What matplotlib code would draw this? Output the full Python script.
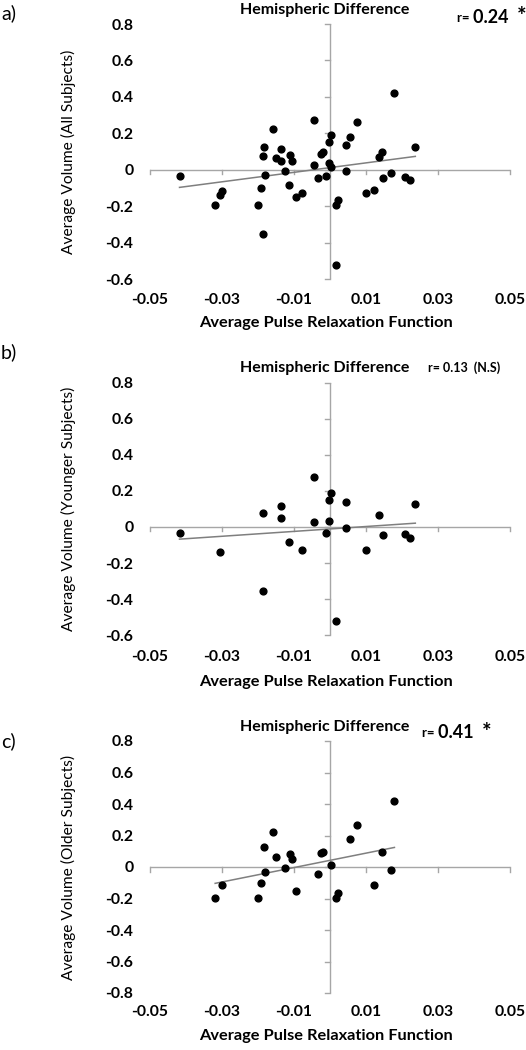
import numpy as np
import matplotlib
matplotlib.use('Agg')
import matplotlib.pyplot as plt

# ---------------- data ----------------
young_x = [-0.0418, -0.0306, -0.0185, -0.0185, -0.0136, -0.0137, -0.0113, -0.0078,
           -0.0044, -0.0044, -0.0012, -0.0002, 0.0003, -0.0002, 0.0018, 0.0044,
           0.0044, 0.0100, 0.0136, 0.0146, 0.0209, 0.0221, 0.0237]
young_y = [-0.033, -0.140, 0.076, -0.354, 0.116, 0.050, -0.083, -0.127,
           0.275, 0.026, -0.035, 0.151, 0.190, 0.035, -0.522, 0.138,
           -0.006, -0.129, 0.068, -0.046, -0.039, -0.059, 0.125]

old_x = [-0.0319, -0.0299, -0.0201, -0.0191, -0.0183, -0.0180, -0.0159, -0.0149,
         -0.0124, -0.0112, -0.0106, -0.0094, -0.0033, -0.0024, -0.0019, 0.0003,
         0.0016, 0.0021, 0.0056, 0.0076, 0.0123, 0.0145, 0.0169, 0.0179]
old_y = [-0.195, -0.115, -0.195, -0.101, 0.126, -0.029, 0.222, 0.063,
         -0.005, 0.080, 0.048, -0.151, -0.046, 0.088, 0.096, 0.015,
         -0.195, -0.165, 0.178, 0.264, -0.113, 0.096, -0.017, 0.421]

all_x = young_x + old_x
all_y = young_y + old_y

x_ticks = [-0.05, -0.03, -0.01, 0.01, 0.03, 0.05]
x_tick_labels = ['-0.05', '-0.03', '-0.01', '0.01', '0.03', '0.05']
yticks_ab = [-0.6, -0.4, -0.2, 0.0, 0.2, 0.4, 0.6, 0.8]
yticks_c = [-0.8, -0.6, -0.4, -0.2, 0.0, 0.2, 0.4, 0.6, 0.8]

panel_letters = ['a)', 'b)', 'c)']
y_labels = ['Average Volume (All Subjects)', 'Average Volume (Younger Subjects)',
            'Average Volume (Older Subjects)']
title = 'Hemispheric Difference'
x_label = 'Average Pulse Relaxation Function'
r_values = ['0.24', '0.13', '0.41']
r_notes = ['*', '(N.S)', '*']

# ---------------- layout ----------------
W, H = 526, 1050
plt.rcParams['font.family'] = ['Lato', 'DejaVu Sans']
fig = plt.figure(figsize=(W / 100, H / 100), dpi=100)


def fx(px):
    return px / W


def fy(py):
    return 1 - py / H


panels = [
    dict(xs=all_x, ys=all_y, yt=yticks_ab, top=24, bot=279, tick_y=301, xl_y=323,
         title_y=10, letter_y=13, r_x=457, r_y=18),
    dict(xs=young_x, ys=young_y, yt=yticks_ab, top=382.5, bot=635.3, tick_y=658, xl_y=682,
         title_y=368, letter_y=352, r_x=428, r_y=368),
    dict(xs=old_x, ys=old_y, yt=yticks_c, top=741, bot=993, tick_y=1013, xl_y=1036,
         title_y=727, letter_y=741, r_x=422, r_y=733),
]

left_px, right_px = 150, 510
axis_col = '#a6a6a6'
trend_col = '#7f7f7f'
tick_fs = 11.3
lab_fs = 11.8

for i, p in enumerate(panels):
    ax = fig.add_axes([fx(left_px), fy(p['bot']), fx(right_px - left_px),
                       (p['bot'] - p['top']) / H])
    ymin, ymax = p['yt'][0], p['yt'][-1]
    ax.set_xlim(-0.05, 0.05)
    ax.set_ylim(ymin, ymax)
    for s in ax.spines.values():
        s.set_visible(False)
    ax.set_xticks(x_ticks)
    ax.set_xticklabels(x_tick_labels)
    ax.set_yticks(p['yt'])
    ax.set_yticklabels(['0' if abs(v) < 1e-9 else f'{v:.1f}' for v in p['yt']])
    ax.tick_params(axis='both', length=0, labelsize=tick_fs)
    ax.tick_params(axis='x', pad=(p['tick_y'] - p['bot'] - 8) * 0.72)
    ax.tick_params(axis='y', pad=12)
    for lab in ax.get_xticklabels() + ax.get_yticklabels():
        lab.set_fontweight('bold')

    # axis lines crossing at zero
    ax.axhline(0, color=axis_col, lw=1.0, zorder=1)
    ax.axvline(0, color=axis_col, lw=1.0, zorder=1)
    hpx = p['bot'] - p['top']
    dy = (ymax - ymin) / hpx
    dx = 0.1 / (right_px - left_px)
    for t in x_ticks:
        ax.plot([t, t], [0, -4.5 * dy], color=axis_col, lw=1.0, zorder=1, clip_on=False)
    for t in p['yt']:
        ax.plot([0, -5.5 * dx], [t, t], color=axis_col, lw=1.0, zorder=1, clip_on=False)

    xs = np.array(p['xs'])
    ys = np.array(p['ys'])
    ax.plot(xs, ys, 'o', color='black', ms=4.9, zorder=3, clip_on=False)
    k, b = np.polyfit(xs, ys, 1)
    xl = np.array([xs.min(), xs.max()])
    ax.plot(xl, k * xl + b, color=trend_col, lw=1.1, zorder=2)

    ax.set_xlabel(x_label, fontsize=lab_fs, fontweight='bold')
    ax.xaxis.set_label_coords((326 - left_px) / (right_px - left_px),
                              (p['bot'] - p['xl_y']) / hpx)
    ax.xaxis.label.set_va('center')
    ax.set_ylabel(y_labels[i], fontsize=11.2)
    ax.yaxis.set_label_coords((68 - left_px) / (right_px - left_px), 0.5)
    ax.yaxis.label.set_va('center')
    ax.yaxis.label.set_rotation_mode('default')

    fig.text(fx(325), fy(p['title_y']), title, ha='center', va='center',
             fontsize=11.5, fontweight='bold')
    fig.text(fx(1), fy(p['letter_y']), panel_letters[i], ha='left', va='center',
             fontsize=14)

    if i == 1:
        fig.text(fx(p['r_x']), fy(p['r_y']), f'r= {r_values[i]}  {r_notes[i]}',
                 ha='left', va='center', fontsize=9, fontweight='bold')
    else:
        t1 = fig.text(fx(p['r_x']), fy(p['r_y']), 'r= ', ha='left', va='center',
                      fontsize=9.5, fontweight='bold')
        fig.canvas.draw()
        bb = t1.get_window_extent()
        t2 = fig.text(bb.x1 / W, fy(p['r_y'] - 0.5), f'{r_values[i]}  ',
                      ha='left', va='center', fontsize=13, fontweight='bold')
        fig.canvas.draw()
        bb2 = t2.get_window_extent()
        fig.text(bb2.x1 / W, fy(p['r_y'] - 1), r_notes[i], ha='left', va='center',
                 fontsize=16, fontweight='bold')

fig.savefig('out.png', dpi=100)
